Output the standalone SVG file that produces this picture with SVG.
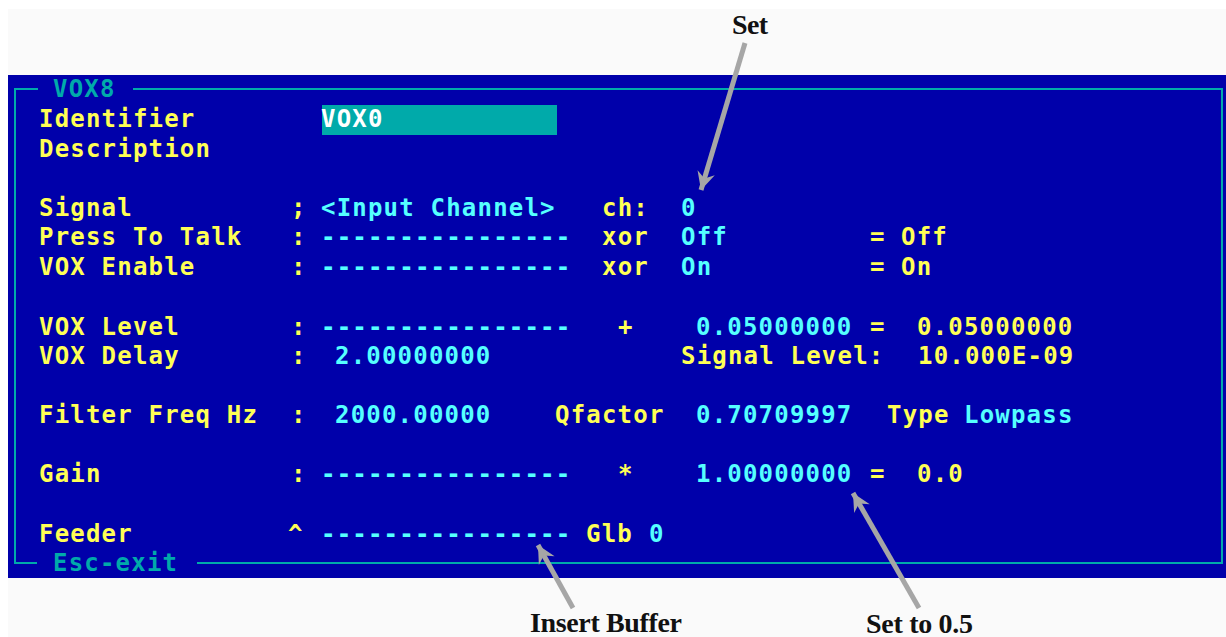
<svg xmlns="http://www.w3.org/2000/svg" width="1226" height="637" viewBox="0 0 1226 637">
  <style>
    .t { font-family: "DejaVu Sans Mono", "Liberation Mono", monospace; font-size: 24px; font-weight: bold; letter-spacing: 1.2px; }
    .y { fill: #FFFF55; }
    .c { fill: #55FFFF; }
    .f { fill: #00AAAA; }
    .w { fill: #FFFFFF; }
    .frame { stroke: #00AAAA; stroke-width: 2; fill: none; }
    .note { font-family: "Liberation Serif", "Times New Roman", serif; font-size: 28px; font-weight: bold; fill: #111111; }
    .arrow { stroke: #A6A6A6; stroke-width: 5; fill: none; marker-end: url(#head); }
  </style>
  <defs>
    <marker id="head" markerUnits="userSpaceOnUse" markerWidth="24" markerHeight="24" viewBox="-20 -12 24 24" refX="0" refY="0" orient="auto">
      <path d="M0,0 L-18,-9 L-12,0 L-18,9 Z" fill="#A6A6A6"/>
    </marker>
  </defs>

  <!-- page -->
  <rect x="0" y="0" width="1226" height="637" fill="#FFFFFF"/>
  <rect x="8" y="9" width="1218" height="628" fill="#FAFAFA"/>

  <!-- terminal screen -->
  <g id="screen">
    <rect x="8" y="75" width="1218" height="503" fill="#0000AA"/>
    <path class="frame" d="M38,89 H15 V563 H37 M197,563 H1222 V89 H133"/>
    <text class="t f" x="53" y="97">VOX8</text>
    <text class="t f" x="53" y="571">Esc-exit</text>
  </g>

  <g id="row-identifier">
    <text class="t y" x="39" y="127">Identifier</text>
    <rect x="322" y="105" width="235" height="30" fill="#00AAAA"/>
    <text class="t w" x="321" y="127">VOX0</text>
  </g>

  <g id="row-description">
    <text class="t y" x="39" y="157">Description</text>
  </g>

  <g id="row-signal">
    <text class="t y" x="39" y="216">Signal</text>
    <text class="t y" x="291" y="216">;</text>
    <text class="t c" x="321" y="216">&lt;Input Channel&gt;</text>
    <text class="t y" x="602" y="216">ch:</text>
    <text class="t c" x="681" y="216">0</text>
  </g>

  <g id="row-press-to-talk">
    <text class="t y" x="39" y="245">Press To Talk</text>
    <text class="t y" x="291" y="245">:</text>
    <text class="t c" x="321" y="245">----------------</text>
    <text class="t y" x="602" y="245">xor</text>
    <text class="t c" x="681" y="245">Off</text>
    <text class="t y" x="870" y="245">=</text>
    <text class="t y" x="901" y="245">Off</text>
  </g>

  <g id="row-vox-enable">
    <text class="t y" x="39" y="275">VOX Enable</text>
    <text class="t y" x="291" y="275">:</text>
    <text class="t c" x="321" y="275">----------------</text>
    <text class="t y" x="602" y="275">xor</text>
    <text class="t c" x="681" y="275">On</text>
    <text class="t y" x="870" y="275">=</text>
    <text class="t y" x="901" y="275">On</text>
  </g>

  <g id="row-vox-level">
    <text class="t y" x="39" y="335">VOX Level</text>
    <text class="t y" x="291" y="335">:</text>
    <text class="t c" x="321" y="335">----------------</text>
    <text class="t y" x="618" y="335">+</text>
    <text class="t c" x="696" y="335">0.05000000</text>
    <text class="t y" x="870" y="335">=</text>
    <text class="t y" x="917" y="335">0.05000000</text>
  </g>

  <g id="row-vox-delay">
    <text class="t y" x="39" y="364">VOX Delay</text>
    <text class="t y" x="291" y="364">:</text>
    <text class="t c" x="335" y="364">2.00000000</text>
    <text class="t y" x="681" y="364">Signal Level:</text>
    <text class="t y" x="918" y="364">10.000E-09</text>
  </g>

  <g id="row-filter">
    <text class="t y" x="39" y="423">Filter Freq Hz</text>
    <text class="t y" x="291" y="423">:</text>
    <text class="t c" x="335" y="423">2000.00000</text>
    <text class="t y" x="555" y="423">Qfactor</text>
    <text class="t c" x="696" y="423">0.70709997</text>
    <text class="t y" x="887" y="423">Type</text>
    <text class="t c" x="964" y="423">Lowpass</text>
  </g>

  <g id="row-gain">
    <text class="t y" x="39" y="482">Gain</text>
    <text class="t y" x="291" y="482">:</text>
    <text class="t c" x="321" y="482">----------------</text>
    <text class="t y" x="618" y="482">*</text>
    <text class="t c" x="696" y="482">1.00000000</text>
    <text class="t y" x="870" y="482">=</text>
    <text class="t y" x="917" y="482">0.0</text>
  </g>

  <g id="row-feeder">
    <text class="t y" x="39" y="542">Feeder</text>
    <text class="t y" x="288" y="542">^</text>
    <text class="t c" x="321" y="542">----------------</text>
    <text class="t y" x="586" y="542">Glb</text>
    <text class="t c" x="649" y="542">0</text>
  </g>

  <!-- callout labels -->
  <g id="note-set">
    <text class="note" x="732" y="34" textLength="36">Set</text>
  </g>
  <g id="note-insert-buffer">
    <text class="note" x="530" y="632" textLength="152">Insert Buffer</text>
  </g>
  <g id="note-set-to">
    <text class="note" x="866" y="633" textLength="107">Set to 0.5</text>
  </g>

  <!-- callout arrows -->
  <g id="connectors">
    <line class="arrow" x1="745" y1="43" x2="701" y2="190"/>
    <line class="arrow" x1="573" y1="608" x2="538" y2="545"/>
    <line class="arrow" x1="919" y1="608" x2="853" y2="493"/>
  </g>
</svg>
